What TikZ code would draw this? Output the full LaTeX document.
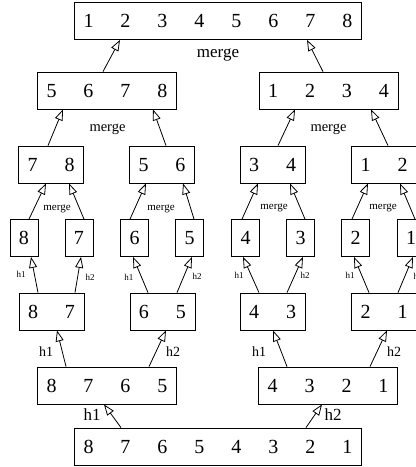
\documentclass[tikz,border=0pt]{standalone}
\usepackage{fontspec}
\setmainfont{Liberation Serif}
\usetikzlibrary{arrows.meta}
\newcommand\dg{\hspace{27pt}}
\tikzset{
  box/.style={draw, line width=0.8pt, inner xsep=9pt, inner ysep=0pt, minimum height=37pt, font=\fontsize{20}{24}\selectfont},
  arr/.style={line width=0.8pt, -{Triangle[open, length=11pt, width=8pt, line width=0.8pt]}},
  lblA/.style={font=\fontsize{17}{20}\selectfont, inner sep=0pt},
  lblB/.style={font=\fontsize{14.5}{17}\selectfont, inner sep=0pt},
  lblC/.style={font=\fontsize{11}{13}\selectfont, inner sep=0pt},
  lblD/.style={font=\fontsize{9}{11}\selectfont, inner sep=0pt},
  lblE/.style={font=\fontsize{14}{16}\selectfont, inner sep=0pt},
}
\begin{document}
\begin{tikzpicture}[x=1pt, y=-1pt]
\useasboundingbox (0,0) rectangle (416,467);
\clip (0,0) rectangle (416,467);
\fill[white] (0,0) rectangle (416,467);
% boxes
\node[box] (top) at (218,21) {1\dg2\dg3\dg4\dg5\dg6\dg7\dg8};
\node[box] (l2a) at (107,90.5) {5\dg6\dg7\dg8};
\node[box] (l2b) at (328.5,90.5) {1\dg2\dg3\dg4};
\node[box] (l3a) at (51,164.5) {7\dg8};
\node[box] (l3b) at (162,164.5) {5\dg6};
\node[box] (l3c) at (272.5,164.5) {3\dg4};
\node[box] (l3d) at (384,164.5) {1\dg2};
\node[box] (l4a) at (24,238) {8};
\node[box] (l4b) at (79,238) {7};
\node[box] (l4c) at (134.5,238) {6};
\node[box] (l4d) at (189.5,238) {5};
\node[box] (l4e) at (245.5,238) {4};
\node[box] (l4f) at (300.5,238) {3};
\node[box] (l4g) at (355.5,238) {2};
\node[box] (l4h) at (411,238) {1};
\node[box] (l5a) at (51.5,311.5) {8\dg7};
\node[box] (l5b) at (162.5,311.5) {6\dg5};
\node[box] (l5c) at (272.5,311.5) {4\dg3};
\node[box] (l5d) at (384,311.5) {2\dg1};
\node[box] (l6a) at (107,385.5) {8\dg7\dg6\dg5};
\node[box] (l6b) at (328,385.5) {4\dg3\dg2\dg1};
\node[box] (bot) at (218,446.5) {8\dg7\dg6\dg5\dg4\dg3\dg2\dg1};
% labels
\node[lblA] (m0) at (218,55) {merge};
\node[lblB] (m1) at (107.5,129) {merge};
\node[lblB] (m2) at (328.5,129) {merge};
\node[lblC] (m3) at (57,209) {merge};
\node[lblC] (m4) at (161,209) {merge};
\node[lblC] (m5) at (274,208) {merge};
\node[lblC] (m6) at (383,208) {merge};
\node[lblD] (h1a) at (21,274) {h1};
\node[lblD] (h2a) at (90,277) {h2};
\node[lblD] (h1b) at (129,277) {h1};
\node[lblD] (h2b) at (197,276) {h2};
\node[lblD] (h1c) at (239,275) {h1};
\node[lblD] (h2c) at (305,275) {h2};
\node[lblD] (h1d) at (350,275) {h1};
\node[lblD] (h2d) at (418,276) {h2};
\node[lblE] (h1e) at (46,352) {h1};
\node[lblE] (h2e) at (173,352) {h2};
\node[lblE] (h1f) at (259,352) {h1};
\node[lblE] (h2f) at (394,352) {h2};
\node[lblA] (h1g) at (92,415) {h1};
\node[lblA] (h2g) at (333,415) {h2};
% arrows to top
\draw[arr] ([xshift=-4pt]l2a.north) -- ([xshift=-98pt]top.south);
\draw[arr] ([xshift=-5.5pt]l2b.north) -- ([xshift=89pt]top.south);
% arrows to level 2
\draw[arr] ([xshift=-3pt]l3a.north) -- ([xshift=-44pt]l2a.south);
\draw[arr] ([xshift=4pt]l3b.north) -- ([xshift=46pt]l2a.south);
\draw[arr] ([xshift=5.5pt]l3c.north) -- ([xshift=-33.5pt]l2b.south);
\draw[arr] ([xshift=4pt]l3d.north) -- ([xshift=42.5pt]l2b.south);
% arrows to level 3
\draw[arr] ([xshift=5pt]l4a.north) -- ([xshift=-5pt]l3a.south);
\draw[arr] ([xshift=5pt]l4b.north) -- ([xshift=18pt]l3a.south);
\draw[arr] ([xshift=-4.5pt]l4c.north) -- ([xshift=-16pt]l3b.south);
\draw[arr] ([xshift=4.5pt]l4d.north) -- ([xshift=21pt]l3b.south);
\draw[arr] ([xshift=-3.5pt]l4e.north) -- ([xshift=-14.5pt]l3c.south);
\draw[arr] ([xshift=4.5pt]l4f.north) -- ([xshift=17.5pt]l3c.south);
\draw[arr] ([xshift=-3.5pt]l4g.north) -- ([xshift=-16pt]l3d.south);
\draw[arr] ([xshift=4pt]l4h.north) -- ([xshift=16pt]l3d.south);
% arrows to level 4
\draw[arr] ([xshift=-13.5pt]l5a.north) -- ([xshift=7pt]l4a.south);
\draw[arr] ([xshift=23.5pt]l5a.north) -- ([xshift=2pt]l4b.south);
\draw[arr] ([xshift=-14.5pt]l5b.north) -- ([xshift=-1.5pt]l4c.south);
\draw[arr] ([xshift=14.5pt]l5b.north) -- ([xshift=2.5pt]l4d.south);
\draw[arr] ([xshift=-13.5pt]l5c.north) -- ([xshift=-2.5pt]l4e.south);
\draw[arr] ([xshift=14.5pt]l5c.north) -- ([xshift=2.5pt]l4f.south);
\draw[arr] ([xshift=-15pt]l5d.north) -- ([xshift=-1.5pt]l4g.south);
\draw[arr] ([xshift=14pt]l5d.north) -- ([xshift=2pt]l4h.south);
% arrows to level 5
\draw[arr] ([xshift=-41pt]l6a.north) -- ([xshift=5.5pt]l5a.south);
\draw[arr] ([xshift=42pt]l6a.north) -- ([xshift=3.5pt]l5b.south);
\draw[arr] ([xshift=-41pt]l6b.north) -- ([xshift=0.5pt]l5c.south);
\draw[arr] ([xshift=42pt]l6b.north) -- ([xshift=3pt]l5d.south);
% arrows to level 6
\draw[arr] ([xshift=-97pt]bot.north) -- ([xshift=-3pt]l6a.south);
\draw[arr] ([xshift=88pt]bot.north) -- ([xshift=-6pt]l6b.south);
\end{tikzpicture}
\end{document}
